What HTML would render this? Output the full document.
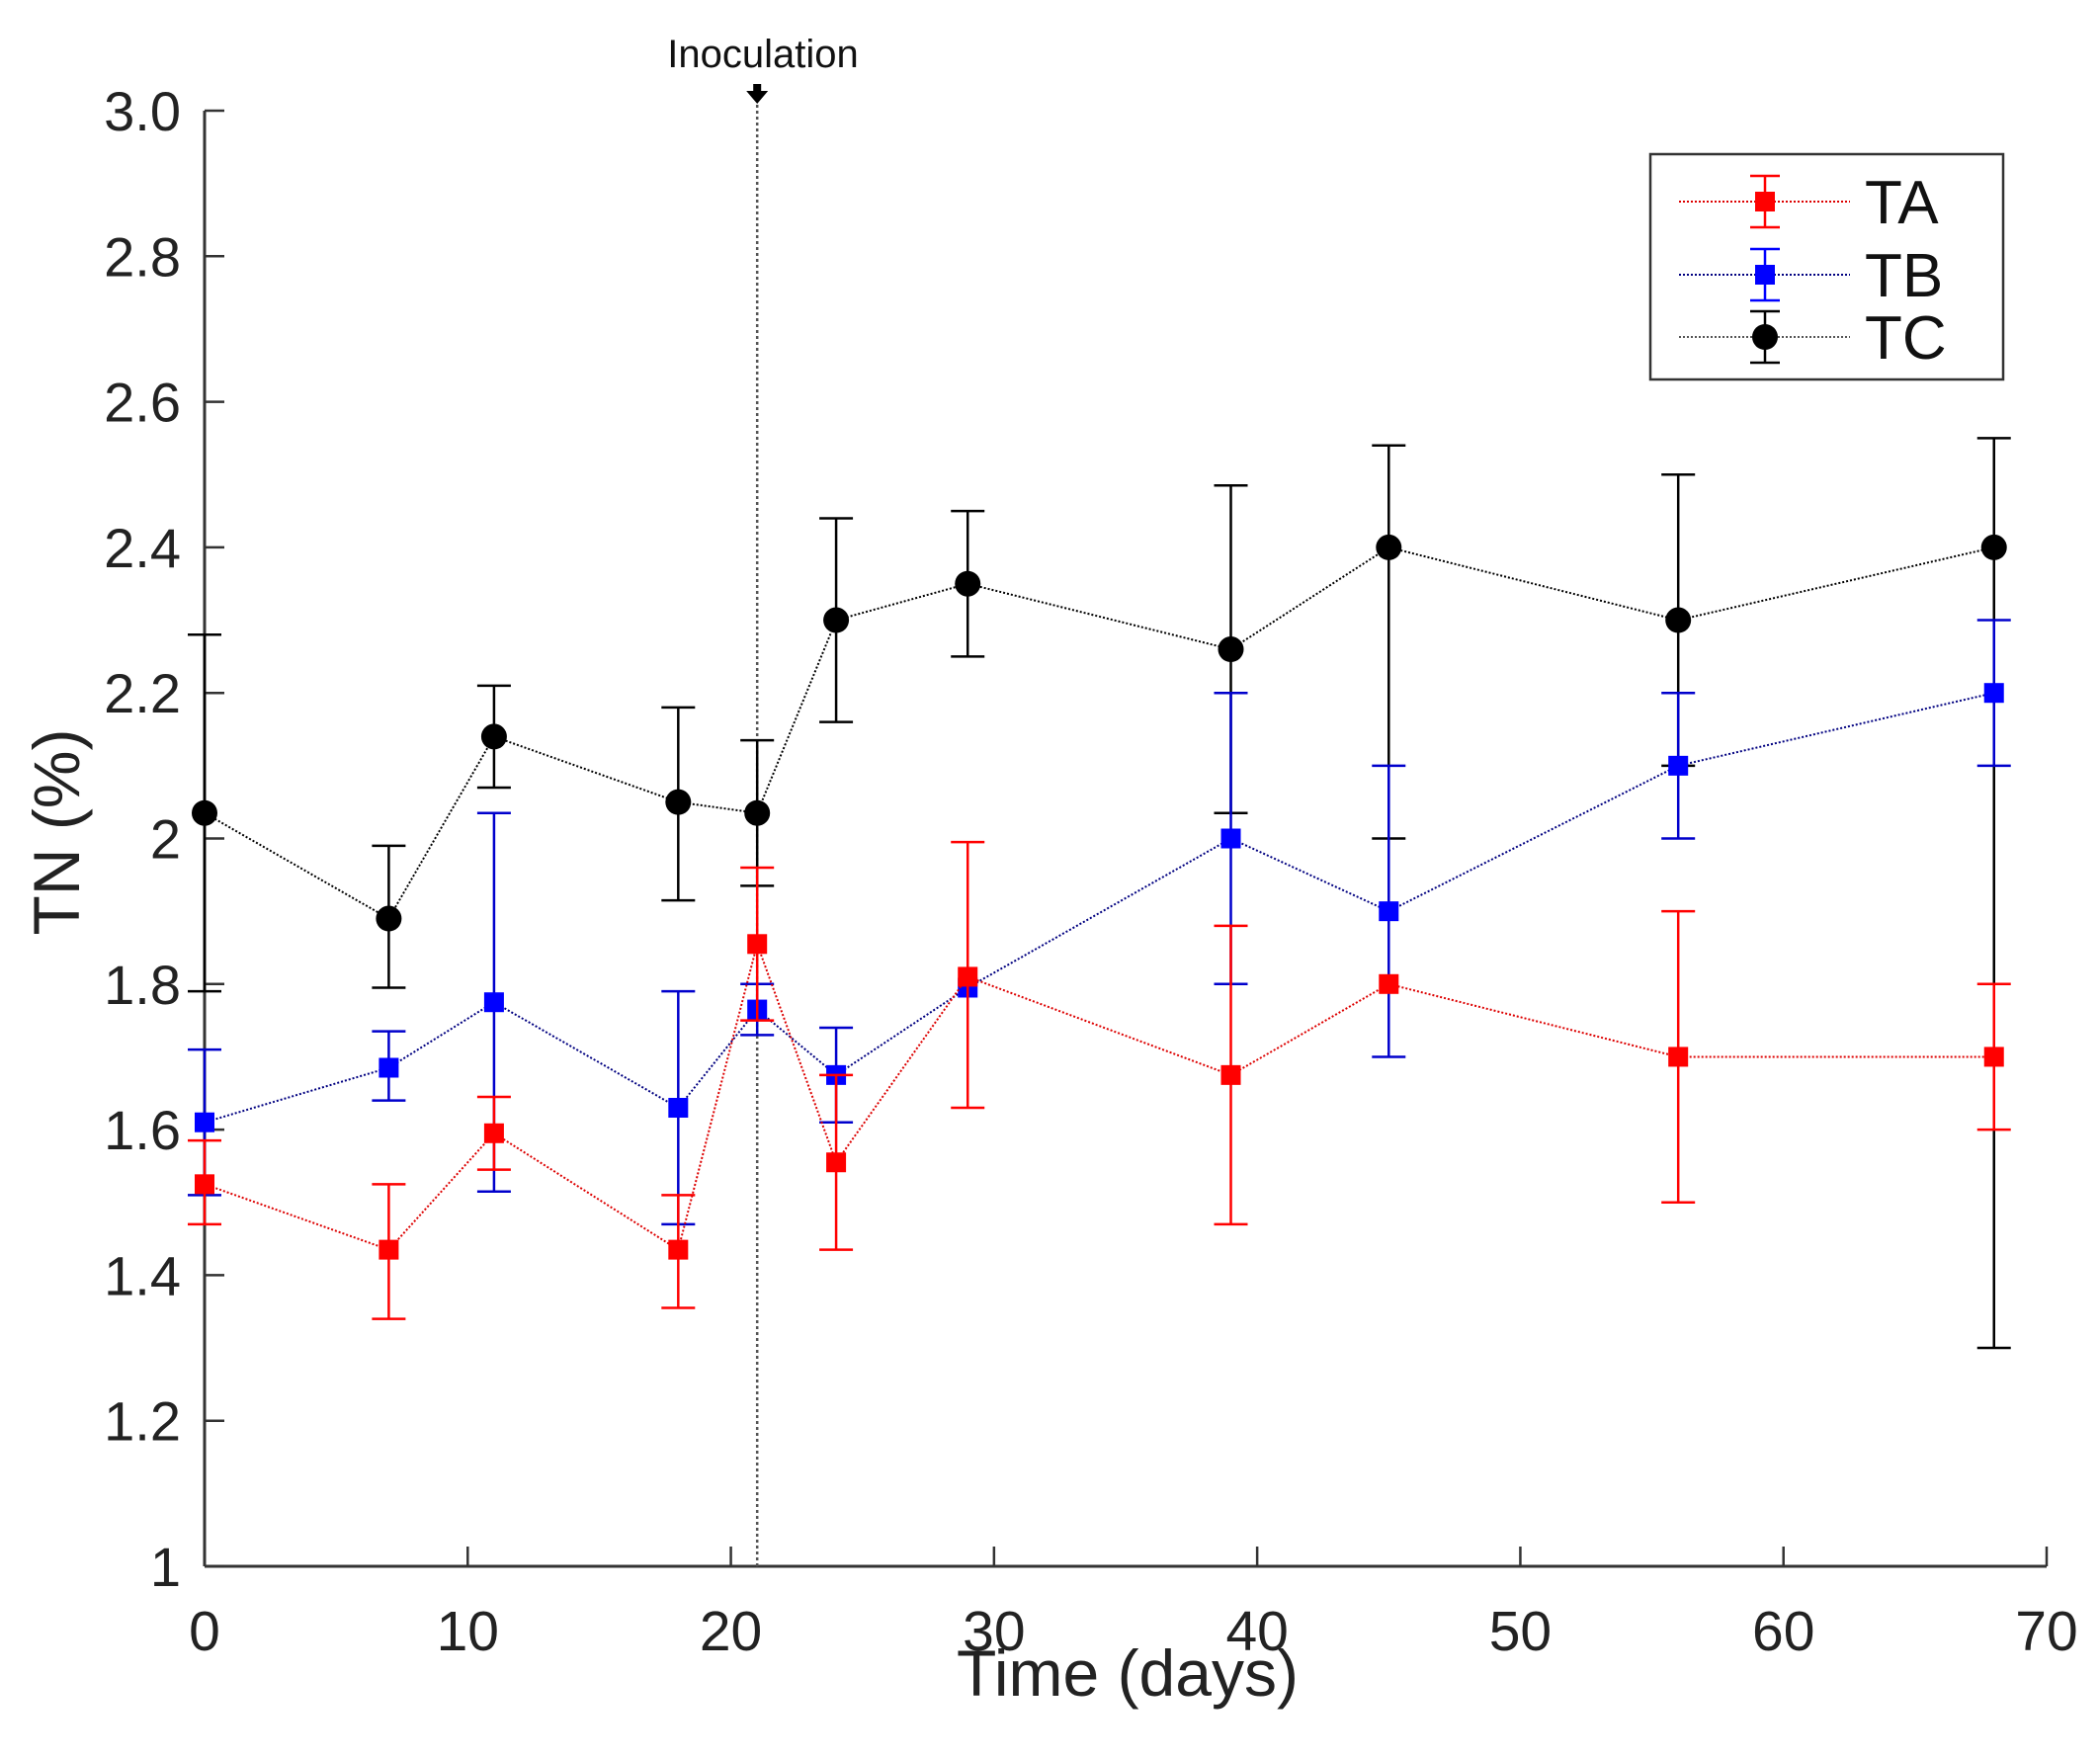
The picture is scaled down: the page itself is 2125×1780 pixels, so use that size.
<!DOCTYPE html>
<html><head><meta charset="utf-8">
<style>
html,body{margin:0;padding:0;background:#fff;}
svg{display:block;font-family:"Liberation Sans",Arial,sans-serif;}
</style></head>
<body>
<svg id="chart" width="2125" height="1780" viewBox="0 0 2125 1780" xmlns="http://www.w3.org/2000/svg">
<rect width="2125" height="1780" fill="#fff"/>
<g id="axes"></g>
<g id="series"></g>
<g id="legend"></g>
</svg>
<script>
const days = [0,7,11,18,21,24,29,39,45,56,68];
const taVals = [1.525,1.435,1.595,1.435,1.855,1.555,1.81,1.675,1.80,1.70,1.70];
const taHi   = [1.585,1.525,1.645,1.51,1.96,1.675,1.995,1.88,1.80,1.90,1.80];
const taLo   = [1.47,1.34,1.545,1.355,1.75,1.435,1.63,1.47,1.80,1.50,1.60];
const tbVals = [1.61,1.685,1.775,1.63,1.765,1.675,1.795,2.0,1.90,2.10,2.20];
const tbHi   = [1.71,1.735,2.035,1.79,1.80,1.74,1.795,2.2,2.10,2.2,2.30];
const tbLo   = [1.51,1.64,1.515,1.47,1.73,1.61,1.795,1.8,1.70,2.0,2.10];
const tcVals = [2.035,1.89,2.14,2.05,2.035,2.30,2.35,2.26,2.40,2.30,2.40];
const tcHi   = [2.28,1.99,2.21,2.18,2.135,2.44,2.45,2.485,2.54,2.50,2.55];
const tcLo   = [1.79,1.795,2.07,1.915,1.935,2.16,2.25,2.035,2.0,2.10,1.30];
const xTicks = [0,10,20,30,40,50,60,70];
const yTicks = [1,1.2,1.4,1.6,1.8,2,2.2,2.4,2.6,2.8,3.0];
const yTickLabels = ["1","1.2","1.4","1.6","1.8","2","2.2","2.4","2.6","2.8","3.0"];
const inoculationDay = 21;

const NS="http://www.w3.org/2000/svg";
const X0=207,X1=2071,Y0=1585,Y1=112;
function xs(d){return X0+(d-0)/(70-0)*(X1-X0);}
function ys(v){return Y0-(v-1)/(3-1)*(Y0-Y1);}
function mk(tag,attrs,parent){const e=document.createElementNS(NS,tag);for(const k in attrs)e.setAttribute(k,attrs[k]);parent.appendChild(e);return e;}

const axes=document.getElementById('axes');
const ya=mk('line',{x1:X0,y1:Y1,x2:X0,y2:Y0,stroke:'#333','stroke-width':3},axes);

const xa=mk('line',{x1:X0,y1:Y0,x2:X1,y2:Y0,stroke:'#333','stroke-width':3},axes);

xTicks.forEach(t=>{
  const l=mk('line',{x1:xs(t),y1:Y0,x2:xs(t),y2:Y0-20,stroke:'#333','stroke-width':2.5},axes);
  
  const tx=mk('text',{x:xs(t),y:1670,'font-size':57,'text-anchor':'middle',fill:'#222'},axes);
  tx.textContent=t;
  
});
yTicks.forEach((t,i)=>{
  const l=mk('line',{x1:X0,y1:ys(t),x2:X0+20,y2:ys(t),stroke:'#333','stroke-width':2.5},axes);
  
  const tx=mk('text',{x:183,y:ys(t)+20,'font-size':56,'text-anchor':'end',fill:'#222'},axes);
  tx.textContent=yTickLabels[i];
  
});
const xt=mk('text',{x:1141,y:1716,'font-size':66,'text-anchor':'middle',fill:'#222'},axes);
xt.textContent='Time (days)';

const yt=mk('text',{x:0,y:0,'font-size':66,'text-anchor':'middle',fill:'#222',transform:'translate(80,842) rotate(-90)'},axes);
yt.textContent='TN (%)';


const ix=xs(inoculationDay);
const il=mk('line',{x1:ix,y1:100,x2:ix,y2:Y0,stroke:'#555','stroke-width':2.5,'stroke-dasharray':'3,3'},axes);

const ia=mk('path',{d:`M${ix-4},85 L${ix+4},85 L${ix+4},92 L${ix+11},92 L${ix},105 L${ix-11},92 L${ix-4},92 Z`,fill:'#000'},axes);

const it=mk('text',{x:772,y:68,'font-size':40,'text-anchor':'middle',fill:'#111'},axes);
it.textContent='Inoculation';


const series=document.getElementById('series');
function drawSeries(name,vals,hi,lo,color,lineColor,marker){
  const g=mk('g',{},series);
  
  days.forEach((d,i)=>{
    if(hi[i]===lo[i])return;
    const x=xs(d);
    const e=mk('path',{d:`M${x},${ys(hi[i])} L${x},${ys(lo[i])} M${x-17},${ys(hi[i])} L${x+17},${ys(hi[i])} M${x-17},${ys(lo[i])} L${x+17},${ys(lo[i])}`,stroke:color,'stroke-width':2.5,fill:'none'},g);
    
  });
  const pts=days.map((d,i)=>xs(d)+','+ys(vals[i])).join(' ');
  const pl=mk('polyline',{points:pts,fill:'none',stroke:lineColor,'stroke-width':2,'stroke-dasharray':'2,2'},g);
  
  days.forEach((d,i)=>{
    let m;
    if(marker==='circle') m=mk('circle',{cx:xs(d),cy:ys(vals[i]),r:13,fill:color},g);
    else m=mk('rect',{x:xs(d)-10,y:ys(vals[i])-10,width:20,height:20,fill:marker==='square'&&name==='tb'?'#0000ff':color},g);
    
  });
}
drawSeries('tc',tcVals,tcHi,tcLo,'#000','#000','circle');
drawSeries('tb',tbVals,tbHi,tbLo,'#0000cc','#000080','square');
drawSeries('ta',taVals,taHi,taLo,'#ff0000','#dd0000','square');

const lg=document.getElementById('legend');
const box=mk('rect',{x:1670,y:156,width:357,height:228,fill:'#fff',stroke:'#333','stroke-width':2.5},lg);

const entries=[['TA','#ff0000','#dd0000','square',204],['TB','#0000ff','#000080','square',278],['TC','#000','#555','circle',341]];
entries.forEach(en=>{
  const [lab,c,lc,mkr,y]=en;
  const g=mk('g',{},lg);
  
  mk('line',{x1:1699,y1:y,x2:1872,y2:y,stroke:lc,'stroke-width':2,'stroke-dasharray':'2,2'},g);
  mk('path',{d:`M1786,${y-26} L1786,${y+26} M1771,${y-26} L1801,${y-26} M1771,${y+26} L1801,${y+26}`,stroke:c,'stroke-width':2.5},g);
  if(mkr==='circle') mk('circle',{cx:1786,cy:y,r:13,fill:c},g);
  else mk('rect',{x:1776,y:y-10,width:20,height:20,fill:c},g);
  const t=mk('text',{x:1887,y:y+22,'font-size':62,fill:'#111'},g);
  t.textContent=lab;
});
</script>
</body></html>
